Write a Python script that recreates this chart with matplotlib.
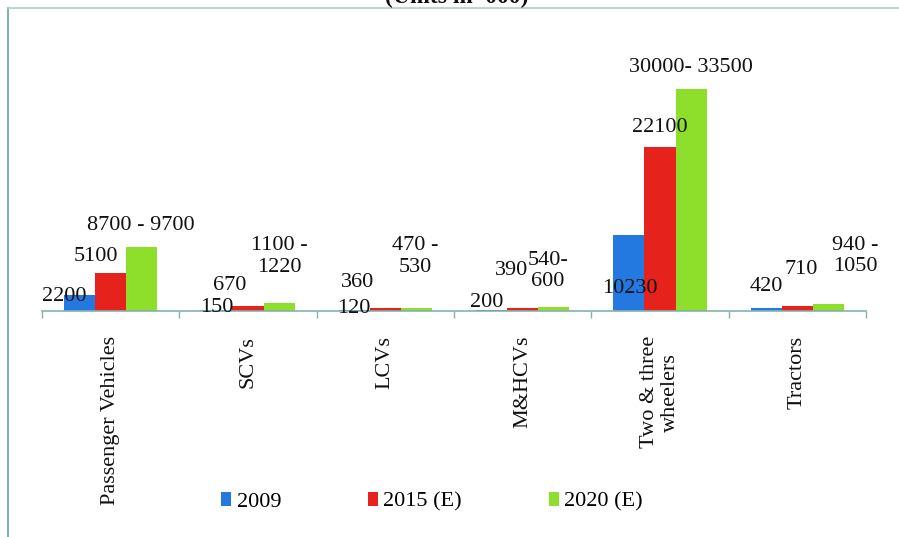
import numpy as np
import matplotlib
matplotlib.use("Agg")
import matplotlib.pyplot as plt
from matplotlib.lines import Line2D
from matplotlib.patches import Patch

# ---- data (units in '000) ----
categories = ["Passenger Vehicles", "SCVs", "LCVs", "M&HCVs",
              "Two & three\nwheelers", "Tractors"]
series_names = ["2009", "2015 (E)", "2020 (E)"]
sales_2009 = [2200, 150, 120, 200, 10230, 420]
sales_2015 = [5100, 670, 360, 390, 22100, 710]
sales_2020_low = [8700, 1100, 470, 540, 30000, 940]
sales_2020_high = [9700, 1220, 530, 600, 33500, 1050]

# ---- styling ----
colors = ["#2479e0", "#e5221b", "#8ddf2b"]
frame_color = "#86b2ab"
serif = ["Liberation Serif", "DejaVu Serif"]
plt.rcParams["font.family"] = serif
FS = 16

# range separators used in the 2020 labels
range_sep = [" - ", " -\n", " -\n", "-\n", "- ", " -\n"]
# label nudges in pixels (dx, dy; dy positive = downwards)
nudge_2009 = [(-15, 2), (0, -2), (0, -2), (-5, -7), (1, 53), (0, -21)]
nudge_2015 = [(-15, -17), (-18, -21), (-28, -26), (-11, -38), (0, -20), (4, -36)]
nudge_2020 = [(-1, -21), (0, -46), (-1, -51), (-6, -36), (0, -22), (27, -48)]

W, H = 899, 537
fig = plt.figure(figsize=(W / 100, H / 100), dpi=100)
ax = fig.add_axes([42 / W, 1 - 311 / H, (866 - 42) / W, (311 - 15) / H])

x = np.arange(len(categories))
bw = 0.226
series = [sales_2009, sales_2015, sales_2020_low]
bar_sets = []
for i, (vals, col, name) in enumerate(zip(series, colors, series_names)):
    bars = ax.bar(x + (i - 1) * bw, vals, width=bw, color=col,
                  edgecolor="none", label=name, zorder=2)
    bar_sets.append(bars)

labels_2009 = [str(v) for v in sales_2009]
labels_2015 = [str(v) for v in sales_2015]
labels_2020 = [f"{lo}{s}{hi}" for lo, s, hi in
               zip(sales_2020_low, range_sep, sales_2020_high)]

for bars, labels, nudges in zip(bar_sets,
                                [labels_2009, labels_2015, labels_2020],
                                [nudge_2009, nudge_2015, nudge_2020]):
    for b, txt, (dx, dy) in zip(bars, labels, nudges):
        ax.annotate(txt, (b.get_x() + b.get_width() / 2, b.get_height()),
                    xytext=(dx, -dy), textcoords="offset pixels",
                    ha="center", va="center", fontsize=FS,
                    linespacing=1.2, color="#111111", zorder=3)

ax.set_xlim(-0.5, len(categories) - 0.5)
ax.set_ylim(0, 40000)
for s in ["top", "right", "left"]:
    ax.spines[s].set_visible(False)
ax.spines["bottom"].set_color(frame_color)
ax.spines["bottom"].set_linewidth(1.2)
ax.set_yticks([])

ax.set_xticks(x)
ax.set_xticklabels(categories, rotation=90, fontsize=FS, ha="center",
                   va="top", multialignment="center")
ax.tick_params(axis="x", which="major", length=0, pad=18, colors="#111111")
ax.set_xticks(np.arange(-0.5, len(categories), 1.0), minor=True)
ax.tick_params(axis="x", which="minor", length=5, width=1.0,
               color=frame_color, direction="out")

# legend
handles = [Patch(facecolor=c, edgecolor="none") for c in colors]
fig.legend(handles, series_names, loc="center", ncol=3,
           bbox_to_anchor=(432 / W, 1 - 502 / H), frameon=False,
           fontsize=FS, handlelength=0.45, handleheight=0.55,
           handletextpad=0.25, columnspacing=3.9)

# outer frame (left and top edges) and clipped heading
fig.add_artist(Line2D([8 / W, 8 / W], [0, 1 - 8 / H], transform=fig.transFigure,
                      color=frame_color, lw=1.5))
fig.add_artist(Line2D([8 / W, 1], [1 - 8 / H, 1 - 8 / H], transform=fig.transFigure,
                      color="#a9d2cc", lw=1.2))
fig.text(457 / W, 1 - 3 / H, "(Units in '000)", ha="center", va="baseline",
         fontsize=17, fontweight="bold", color="#111111")

fig.savefig("out.png", dpi=100, facecolor="white")
